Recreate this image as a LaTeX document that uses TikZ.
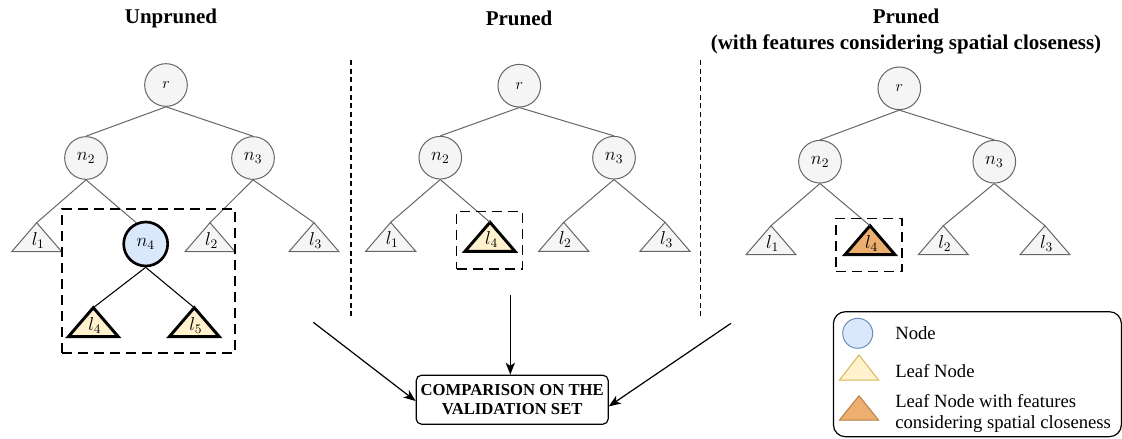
\RequirePackage{fix-cm}
\documentclass[tikz,border=0pt]{standalone}
\usepackage{fontspec}
\setmainfont{Liberation Serif}
\usetikzlibrary{arrows.meta}
\definecolor{grayfill}{HTML}{F5F5F5}
\definecolor{graystroke}{HTML}{666666}
\definecolor{bluefill}{HTML}{DAE8FC}
\definecolor{bluestroke}{HTML}{6C8EBF}
\definecolor{leaffill}{HTML}{FFF2CC}
\definecolor{leafstroke}{HTML}{D6B656}
\definecolor{orangefill}{HTML}{ECAF6F}
\definecolor{orangestroke}{HTML}{B5804A}
\tikzset{
  tnode/.style={circle, draw=graystroke, fill=grayfill, line width=0.75pt, minimum size=32pt, inner sep=0pt, font=\fontsize{14}{16}\selectfont},
  rootnode/.style={tnode, font=\fontsize{12}{14}\selectfont},
  tedge/.style={draw=graystroke, line width=0.75pt},
  bedge/.style={draw=black, line width=0.8pt},
  grayleaf/.style={draw=graystroke, fill=grayfill, line width=0.75pt, line join=miter},
  yellowleaf/.style={draw=black, fill=leaffill, line width=2.2pt, line join=miter},
  orangeleaf/.style={draw=black, fill=orangefill, line width=2.2pt, line join=miter},
  leaflabel/.style={inner sep=0pt, font=\fontsize{14}{16}\selectfont},
  selbox/.style={draw=black, line width=0.9pt, dash pattern=on 7.5pt off 4.5pt},
  divider/.style={draw=black, line width=0.8pt, dash pattern=on 3.75pt off 2.75pt},
  flow/.style={draw=black, line width=0.9pt, -{Stealth[length=9pt,width=7pt,inset=2.5pt]}},
  title/.style={font=\fontsize{15.75}{19.5}\selectfont\bfseries, align=center, inner sep=0pt},
  legtext/.style={font=\fontsize{14}{16.3}\selectfont, anchor=west, align=left, inner sep=0pt},
}
% name, apex x, apex y, style, label
\newcommand\leafTri[5]{%
  \coordinate (#1) at (#2,#3);
  \path[#4] (#1) -- ++(-25,29) -- ++(50,0) -- cycle;
  \node[leaflabel] (#1-t) at (#2+1.5,#3+17.5) {$#5$};
}
\begin{document}
\begin{tikzpicture}[x=0.75pt, y=-0.75pt]
\useasboundingbox (0,0) rectangle (1122,439);

% titles
\node[title] (t1) at (171,18) {Unpruned};
\node[title] (t2) at (519,18) {Pruned};
\node[title] (t3) at (906,32) {Pruned\\(with features considering spatial closeness)};

% ---------- panel 1 ----------
\node[rootnode] (r1) at (166,85) {$r$};
\node[tnode] (a2) at (86,158) {$n_2$};
\node[tnode] (a3) at (253,158) {$n_3$};
\node[tnode, fill=bluefill, draw=black, line width=2pt, minimum size=33pt] (a4) at (145.7,244) {$n_4$};
\leafTri{al1}{36.7}{222.7}{grayleaf}{l_1}
\leafTri{al2}{210}{222.7}{grayleaf}{l_2}
\leafTri{al3}{314}{222.7}{grayleaf}{l_3}
\leafTri{al4}{93.3}{307.7}{yellowleaf}{l_4}
\leafTri{al5}{194.3}{307.7}{yellowleaf}{l_5}
\draw[tedge] (r1.south) -- (a2.north);
\draw[tedge] (r1.south) -- (a3.north);
\draw[tedge] (a2.south) -- (al1);
\draw[tedge] (a2.south) -- (a4.114);
\draw[tedge] (a3.south) -- (al2);
\draw[tedge] (a3.south) -- (al3);
\draw[bedge] (a4.south) -- (al4);
\draw[bedge] (a4.south) -- (al5);
\node[selbox, minimum width=129.75pt, minimum height=108pt, inner sep=0pt] (box1) at (148.5,281) {};

% ---------- panel 2 ----------
\node[rootnode] (r2) at (519.3,85.7) {$r$};
\node[tnode] (b2) at (440.3,157.7) {$n_2$};
\node[tnode] (b3) at (614,157.7) {$n_3$};
\leafTri{bl1}{390.7}{222.3}{grayleaf}{l_1}
\leafTri{bl4}{490}{222.3}{yellowleaf}{l_4}
\leafTri{bl2}{563.7}{222.3}{grayleaf}{l_2}
\leafTri{bl3}{665}{222.3}{grayleaf}{l_3}
\draw[tedge] (r2.south) -- (b2.north);
\draw[tedge] (r2.south) -- (b3.north);
\draw[tedge] (b2.south) -- (bl1);
\draw[tedge] (b2.south) -- (bl4);
\draw[tedge] (b3.south) -- (bl2);
\draw[tedge] (b3.south) -- (bl3);
\node[selbox, minimum width=49.5pt, minimum height=43pt, inner sep=0pt] (box2) at (489.7,240.3) {};

% ---------- panel 3 ----------
\node[rootnode] (r3) at (899.3,88.3) {$r$};
\node[tnode] (c2) at (820,161.7) {$n_2$};
\node[tnode] (c3) at (994.3,161.7) {$n_3$};
\leafTri{cl1}{771}{225.7}{grayleaf}{l_1}
\leafTri{cl4}{870}{225.7}{orangeleaf}{l_4}
\leafTri{cl2}{943.3}{225.7}{grayleaf}{l_2}
\leafTri{cl3}{1045}{225.7}{grayleaf}{l_3}
\draw[tedge] (r3.south) -- (c2.north);
\draw[tedge] (r3.south) -- (c3.north);
\draw[tedge] (c2.south) -- (cl1);
\draw[tedge] (c2.south) -- (cl4);
\draw[tedge] (c3.south) -- (cl2);
\draw[tedge] (c3.south) -- (cl3);
\node[selbox, minimum width=49.5pt, minimum height=40pt, inner sep=0pt] (box3) at (869,245) {};

% dividers
\coordinate (d1t) at (351,60);
\coordinate (d1b) at (351,320);
\coordinate (d2t) at (700.7,60);
\coordinate (d2b) at (700.7,320);
\draw[divider] (d1t) -- (d1b);
\draw[divider] (d2t) -- (d2b);

% comparison box
\node[draw=black, line width=0.9pt, rounded corners=4pt, minimum width=144pt, minimum height=36.75pt, inner sep=0pt, align=center,
      font=\fontsize{12.5}{14.3}\selectfont\bfseries] (cmp) at (512.2,399.7) {COMPARISON ON THE\\VALIDATION SET};
\coordinate (s1) at (313.3,322.3);
\coordinate (s2) at (510.3,295);
\coordinate (s3) at (731,323.3);
\draw[flow] (s1) -- ([yshift=-1pt]cmp.west);
\draw[flow] (s2) -- (s2 |- cmp.north);
\draw[flow] (s3) -- ([yshift=-5pt]cmp.east);

% legend
\node[draw=black, line width=0.9pt, rounded corners=9pt, minimum width=216pt, minimum height=93.75pt, inner sep=0pt] (legend) at (977.4,374.2) {};
\node[circle, draw=bluestroke, fill=bluefill, line width=0.75pt, minimum size=22.5pt, inner sep=0pt] (lgc) at (857.7,333.3) {};
\coordinate (lgt1) at (859,355);
\path[draw=leafstroke, fill=leaffill, line width=0.75pt] (lgt1) -- ++(-19.5,25) -- ++(39,0) -- cycle;
\coordinate (lgt2) at (859,395.7);
\path[draw=orangestroke, fill=orangefill, line width=0.75pt] (lgt2) -- ++(-19.5,24.3) -- ++(39,0) -- cycle;
\node[legtext] (lg1) at (895,333.3) {Node};
\node[legtext] (lg2) at (895,371) {Leaf Node};
\node[legtext] (lg3) at (895,413.5) {Leaf Node with features\\considering spatial closeness};
\end{tikzpicture}
\end{document}
